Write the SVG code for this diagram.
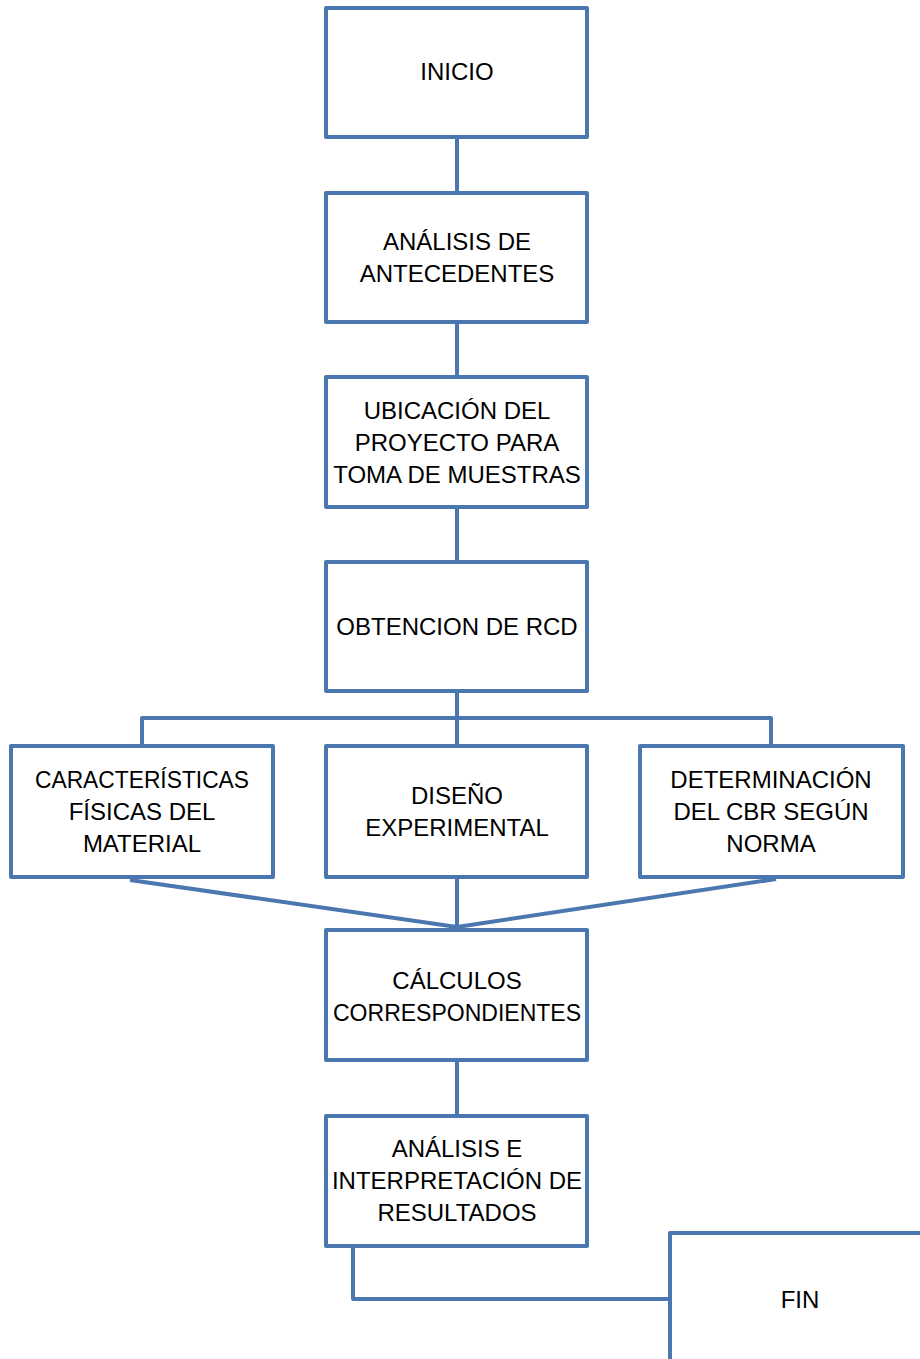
<svg xmlns="http://www.w3.org/2000/svg" width="920" height="1359" viewBox="0 0 920 1359">
<style>
.box{fill:#fff;stroke:#4A77AF;stroke-width:4;stroke-linejoin:round}
.ln{fill:none;stroke:#4A77AF;stroke-width:4;stroke-linejoin:round}
text{font-family:"Liberation Sans",Arial,sans-serif;font-size:24px;fill:#000;text-anchor:middle}
</style>
<rect width="920" height="1359" fill="#fff"/>
<g id="connectors">
<line class="ln" x1="457" y1="137" x2="457" y2="193"/>
<line class="ln" x1="457" y1="322" x2="457" y2="377"/>
<line class="ln" x1="457" y1="507" x2="457" y2="562"/>
<line class="ln" x1="457" y1="691" x2="457" y2="746"/>
<polyline class="ln" points="142,746 142,718 771,718 771,746"/>
<line class="ln" x1="457" y1="877" x2="457" y2="928"/>
<line class="ln" x1="130" y1="880" x2="457" y2="927"/>
<line class="ln" x1="776" y1="879" x2="457" y2="927"/>
<line class="ln" x1="457" y1="1060" x2="457" y2="1116"/>
<polyline class="ln" points="353,1246 353,1299 670,1299"/>
</g>
<g id="inicio"><rect class="box" x="326" y="8" width="261" height="129"/><text x="457" y="80">INICIO</text></g>
<g id="analisis-antecedentes"><rect class="box" x="326" y="193" width="261" height="129"/><text x="457" y="250">ANÁLISIS DE</text><text x="457" y="282">ANTECEDENTES</text></g>
<g id="ubicacion"><rect class="box" x="326" y="377" width="261" height="130"/><text x="457" y="419">UBICACIÓN DEL</text><text x="457" y="451">PROYECTO PARA</text><text x="457" y="483">TOMA DE MUESTRAS</text></g>
<g id="obtencion"><rect class="box" x="326" y="562" width="261" height="129"/><text x="457" y="635">OBTENCION DE RCD</text></g>
<g id="caracteristicas"><rect class="box" x="11" y="746" width="262" height="131"/><text x="142" y="788" textLength="214" lengthAdjust="spacingAndGlyphs">CARACTERÍSTICAS</text><text x="142" y="820">FÍSICAS DEL</text><text x="142" y="852">MATERIAL</text></g>
<g id="diseno"><rect class="box" x="326" y="746" width="261" height="131"/><text x="457" y="804">DISEÑO</text><text x="457" y="836">EXPERIMENTAL</text></g>
<g id="determinacion"><rect class="box" x="640" y="746" width="263" height="131"/><text x="771" y="788">DETERMINACIÓN</text><text x="771" y="820">DEL CBR SEGÚN</text><text x="771" y="852">NORMA</text></g>
<g id="calculos"><rect class="box" x="326" y="930" width="261" height="130"/><text x="457" y="989">CÁLCULOS</text><text x="457" y="1021" textLength="248" lengthAdjust="spacingAndGlyphs">CORRESPONDIENTES</text></g>
<g id="analisis-interpretacion"><rect class="box" x="326" y="1116" width="261" height="130"/><text x="457" y="1157">ANÁLISIS E</text><text x="457" y="1189">INTERPRETACIÓN DE</text><text x="457" y="1221">RESULTADOS</text></g>
<g id="fin"><rect class="box" x="670" y="1233" width="300" height="200"/><text x="800" y="1308">FIN</text></g>
</svg>
